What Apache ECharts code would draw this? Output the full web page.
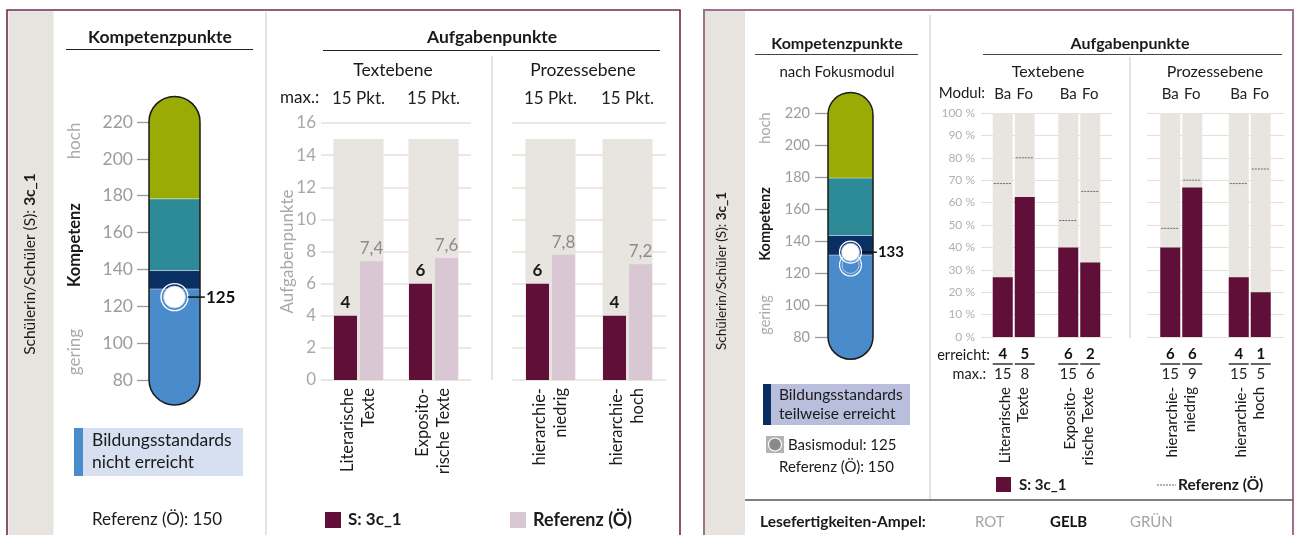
<!DOCTYPE html>
<html><head><meta charset="utf-8">
<script src="https://cdn.jsdelivr.net/npm/echarts@6/dist/echarts.min.js"></script>
<style>html,body{margin:0;padding:0;background:#fff}#c{width:1297px;height:535px}</style>
</head><body><div id="c"></div>
<script>
// ===== DATA =====
const studentId = '3c_1';
const kompTicks = [80, 100, 120, 140, 160, 180, 200, 220];
const leftBandEdges = [66.5, 129.4, 139.4, 178.3, 233.9];
const rightBandEdges = [66.1, 131.2, 143.4, 179.3, 232.8];
const leftScore = [125];
const rightScore = [133];
const basisScore = [125];
const referenzKomp = 150;

const catsText = ['Literarische\nTexte', 'Exposito-\nrische Texte'];
const catsProz = ['hierarchie-\nniedrig', 'hierarchie-\nhoch'];

// left: Aufgabenpunkte (points)
const leftMaxText = [15, 15];
const leftMaxProz = [15, 15];
const leftSText = [4, 6];
const leftSProz = [6, 4];
const leftRefText = [7.4, 7.6];
const leftRefProz = [7.8, 7.2];

// right: Aufgabenpunkte (percent by module)
const pctFull = [100, 100];
const erreichtBaText = [4, 6], erreichtFoText = [5, 2];
const maxBaText = [15, 15], maxFoText = [8, 6];
const erreichtBaProz = [6, 4], erreichtFoProz = [6, 1];
const maxBaProz = [15, 15], maxFoProz = [9, 5];
const pctBaText = [26.7, 40.0], pctFoText = [62.5, 33.3];
const pctBaProz = [40.0, 26.7], pctFoProz = [66.7, 20.0];
const refBaText = [68.5, 52.0], refFoText = [80.0, 65.0];
const refBaProz = [48.5, 68.5], refFoProz = [70.0, 75.0];

const ampel = ['ROT', 'GELB', 'GRÜN'];
const ampelActive = 'GELB';

// ===== STYLE =====
const FONT = 'Lato, "Open Sans", sans-serif';
const MAROON = '#5f0f38', PINK = '#d9c7d3', BG = '#e8e4e0', GRIDC = '#e6dfd8', STRIPE = '#e7e3df';
const bandColorsLeft = ['#4a8bcb', '#0a2f63', '#2d8b97', '#99ab04'];
const bandColorsRight = ['#4a8bcb', '#0a2f63', '#2d8b97', '#99ab04'];

function T(x, y, text, o) {
  o = o || {};
  const st = {text: text, fontFamily: FONT, fontSize: o.size || 16, fontWeight: o.bold ? 'bold' : 'normal',
    fill: o.color || '#1a1a1a', align: o.align || 'left', verticalAlign: o.va || 'middle'};
  if (o.lh) st.lineHeight = o.lh;
  if (o.rich) st.rich = o.rich;
  return {type: 'text', x: x, y: y, rotation: o.rot || 0, silent: true, z: 100, style: st};
}
function L(x1, y1, x2, y2, color, w, dash) {
  const st = {stroke: color, lineWidth: w};
  if (dash) st.lineDash = dash;
  return {type: 'line', silent: true, z: 100, shape: {x1, y1, x2, y2}, style: st};
}
function R(x, y, w, h, fill, stroke, lw, z) {
  return {type: 'rect', silent: true, z: z == null ? 100 : z, shape: {x, y, width: w, height: h},
    style: {fill: fill || 'none', stroke: stroke || null, lineWidth: lw || 0}};
}

function makePill(edges, colors, xi, yi) {
  const data = [];
  for (let i = 0; i < colors.length; i++) data.push([0, edges[i], edges[i + 1], i]);
  const last = colors.length - 1;
  return {
    type: 'custom', xAxisIndex: xi, yAxisIndex: yi, data: data, silent: true, z: 2,
    encode: {x: 0, y: [1, 2]},
    renderItem: function (params, api) {
      const i = api.value(3);
      const pTop = api.coord([0, api.value(2)]);
      const pBot = api.coord([0, api.value(1)]);
      const w = api.size([1, 0])[0];
      const r = w / 2;
      let rr = 0;
      if (i === last) rr = [r, r, 0, 0];
      else if (i === 0) rr = [0, 0, r, r];
      const band = {type: 'rect', shape: {x: pTop[0] - r, y: pTop[1], width: w, height: pBot[1] - pTop[1], r: rr},
        style: {fill: colors[i]}};
      const kids = [band];
      if (i > 0) kids.push({type: 'line', shape: {x1: pTop[0] - r, y1: pBot[1], x2: pTop[0] + r, y2: pBot[1]},
        style: {stroke: 'rgba(255,255,255,0.45)', lineWidth: 1}});
      if (i === last) {
        const b0 = api.coord([0, edges[0]]);
        kids.push({type: 'rect', shape: {x: pTop[0] - r, y: pTop[1], width: w, height: b0[1] - pTop[1], r: r},
          style: {fill: 'none', stroke: '#1a1a1a', lineWidth: 1.5}});
      }
      return {type: 'group', children: kids};
    }
  };
}

function scoreLabel(size, lineW) {
  return {show: true, position: 'right', distance: 2,
    formatter: function (p) { return '{l| }{v|' + p.value[1] + '}'; },
    rich: {l: {width: lineW, height: 1.5, lineHeight: 2, fontSize: 1, backgroundColor: '#111'},
      v: {fontFamily: FONT, fontSize: size, fontWeight: 'bold', color: '#111', padding: [0, 0, 0, 1]}}};
}

function refSeries(xi, yi, ba, fo) {
  const data = [];
  ba.forEach(function (v, i) { data.push([i, v, -1]); });
  fo.forEach(function (v, i) { data.push([i, v, 1]); });
  return {type: 'custom', xAxisIndex: xi, yAxisIndex: yi, data: data, silent: true, z: 6,
    encode: {x: 0, y: 1},
    renderItem: function (params, api) {
      const c = api.coord([api.value(0), api.value(1)]);
      const off = api.value(2) * 11;
      return {type: 'line', shape: {x1: c[0] + off - 9, y1: c[1], x2: c[0] + off + 9, y2: c[1]},
        style: {stroke: '#6a6a6a', lineWidth: 1, lineDash: [2, 1]}};
    }};
}

function modBars(xLab, xHid, yi, pBa, pFo, eBa, mBa, eFo, mFo) {
  const rich = {
    a: {fontFamily: FONT, fontSize: 15, fontWeight: 'bold', color: '#111', lineHeight: 17, align: 'center'},
    u: {width: 20, height: 1.5, lineHeight: 2, fontSize: 1, backgroundColor: '#333'},
    b: {fontFamily: FONT, fontSize: 15, color: '#222', lineHeight: 19, align: 'center'}
  };
  function lab(e, m) {
    return {show: true, position: 'bottom', distance: 9, rich: rich,
      formatter: function (p) { return '{a|' + e[p.dataIndex] + '}\n{u| }\n{b|' + m[p.dataIndex] + '}'; }};
  }
  const bgLab = {show: true, position: 'top', distance: 11, formatter: '{a}', fontFamily: FONT, fontSize: 15, color: '#222'};
  return [
    {type: 'bar', name: 'Ba', xAxisIndex: xHid, yAxisIndex: yi, data: pctFull, barWidth: 20, barGap: '10%', silent: true, z: 1,
      itemStyle: {color: BG}, label: bgLab},
    {type: 'bar', name: 'Fo', xAxisIndex: xHid, yAxisIndex: yi, data: pctFull, barWidth: 20, barGap: '10%', silent: true, z: 1,
      itemStyle: {color: BG}, label: bgLab},
    {type: 'bar', name: 'S Ba', xAxisIndex: xLab, yAxisIndex: yi, data: pBa, barWidth: 20, barGap: '10%', z: 3,
      itemStyle: {color: MAROON}, label: lab(eBa, mBa)},
    {type: 'bar', name: 'S Fo', xAxisIndex: xLab, yAxisIndex: yi, data: pFo, barWidth: 20, barGap: '10%', z: 3,
      itemStyle: {color: MAROON}, label: lab(eFo, mFo)}
  ];
}

function ptsBars(xLab, xHid, yi, mx, s, ref) {
  return [
    {type: 'bar', name: 'max', xAxisIndex: xHid, yAxisIndex: yi, data: mx, barWidth: 50, silent: true, z: 1,
      itemStyle: {color: BG},
      label: {show: true, position: 'top', distance: 32, fontFamily: FONT, fontSize: 17, color: '#222',
        formatter: function (p) { return p.value + ' Pkt.'; }}},
    {type: 'bar', name: 'S', xAxisIndex: xLab, yAxisIndex: yi, data: s, barWidth: 23, barGap: '13%', z: 3,
      itemStyle: {color: MAROON},
      label: {show: true, position: 'top', distance: 5, fontFamily: FONT, fontSize: 17, fontWeight: 'bold', color: '#1a1a1a'}},
    {type: 'bar', name: 'Ref', xAxisIndex: xLab, yAxisIndex: yi, data: ref, barWidth: 23, barGap: '13%', z: 3,
      itemStyle: {color: PINK},
      label: {show: true, position: 'top', distance: 4, fontFamily: FONT, fontSize: 17, color: '#8c8c8c',
        formatter: function (p) { return String(p.value).replace('.', ','); }}}
  ];
}

const hiddenX = function (g, cats) { return {gridIndex: g, type: 'category', data: cats, show: false}; };
const labX = function (g, cats, size, lh, margin) {
  return {gridIndex: g, type: 'category', data: cats, axisLine: {show: false}, axisTick: {show: false},
    axisLabel: {interval: 0, rotate: 90, fontFamily: FONT, fontSize: size, lineHeight: lh, color: '#1a1a1a', margin: margin}};
};

const grids = [
  {left: 149, top: 96.4, width: 51, height: 308.5},
  {left: 321, top: 123, width: 150, height: 257},
  {left: 512, top: 123, width: 154, height: 257},
  {left: 828, top: 92.5, width: 45, height: 266.7},
  {left: 981, top: 113, width: 131, height: 224},
  {left: 1147, top: 113, width: 137, height: 224}
].map(function (g) { g.containLabel = false; g.outerBoundsMode = 'none'; return g; });

const xAxes = [
  hiddenX(0, ['K']),
  labX(1, catsText, 16.5, 21, 8), hiddenX(1, catsText),
  labX(2, catsProz, 16.5, 21, 8), hiddenX(2, catsProz),
  hiddenX(3, ['K']),
  labX(4, catsText, 15, 18, 50), hiddenX(4, catsText),
  labX(5, catsProz, 15, 18, 50), hiddenX(5, catsProz)
];

function pillY(g, edges, size, tickLen, margin) {
  return {gridIndex: g, type: 'value', min: edges[0], max: edges[edges.length - 1],
    splitLine: {show: false}, axisLine: {show: false},
    axisTick: {show: true, length: tickLen, customValues: kompTicks, lineStyle: {color: '#9a9a9a', width: 1.3}},
    axisLabel: {customValues: kompTicks, fontFamily: FONT, fontSize: size, color: '#9c9c9c', margin: margin}};
}

const yAxes = [
  pillY(0, leftBandEdges, 17.5, 12, 16),
  {gridIndex: 1, type: 'value', min: 0, max: 16, interval: 2, axisLine: {show: false}, axisTick: {show: false},
    splitLine: {lineStyle: {color: GRIDC, width: 1.5}},
    axisLabel: {fontFamily: FONT, fontSize: 17, color: '#a8a8a8', margin: 5},
    name: 'Aufgabenpunkte', nameLocation: 'middle', nameGap: 25, nameMoveOverlap: false,
    nameTextStyle: {fontFamily: FONT, fontSize: 17, color: '#a8a8a8'}},
  {gridIndex: 2, type: 'value', min: 0, max: 16, interval: 2, axisLine: {show: false}, axisTick: {show: false},
    splitLine: {lineStyle: {color: GRIDC, width: 1.5}}, axisLabel: {show: false}},
  pillY(3, rightBandEdges, 14.5, 13, 18),
  {gridIndex: 4, type: 'value', min: 0, max: 100, interval: 10, axisLine: {show: false}, axisTick: {show: false},
    splitLine: {lineStyle: {color: GRIDC, width: 1.2}},
    axisLabel: {fontFamily: FONT, fontSize: 12, color: '#b0b0b0', margin: 6, formatter: '{value} %'}},
  {gridIndex: 5, type: 'value', min: 0, max: 100, interval: 10, axisLine: {show: false}, axisTick: {show: false},
    splitLine: {lineStyle: {color: GRIDC, width: 1.2}}, axisLabel: {show: false}}
];

const sc = function (arr) { return arr.map(function (v) { return [0, v]; }); };
const series = [].concat(
  [makePill(leftBandEdges, bandColorsLeft, 0, 0),
    {type: 'scatter', xAxisIndex: 0, yAxisIndex: 0, data: sc(leftScore),
      symbolSize: 27, silent: true, z: 5, itemStyle: {color: 'rgba(0,0,0,0)', borderColor: '#ffffff', borderWidth: 1.4, opacity: 1}},
    {type: 'scatter', xAxisIndex: 0, yAxisIndex: 0, data: sc(leftScore),
      symbolSize: 22, silent: true, z: 6, itemStyle: {color: '#ffffff', borderColor: '#a9c5e8', borderWidth: 0.8, opacity: 1},
      label: scoreLabel(17, 17)}],
  ptsBars(1, 2, 1, leftMaxText, leftSText, leftRefText),
  ptsBars(3, 4, 2, leftMaxProz, leftSProz, leftRefProz),
  [makePill(rightBandEdges, bandColorsRight, 5, 3),
    {type: 'scatter', xAxisIndex: 5, yAxisIndex: 3, data: sc(basisScore),
      symbolSize: 22, silent: true, z: 5, itemStyle: {color: 'rgba(0,0,0,0)', borderColor: '#ffffff', borderWidth: 1.1, opacity: 1}},
    {type: 'scatter', xAxisIndex: 5, yAxisIndex: 3, data: sc(basisScore),
      symbolSize: 17, silent: true, z: 5, itemStyle: {color: 'rgba(0,0,0,0)', borderColor: 'rgba(255,255,255,0.7)', borderWidth: 0.8, opacity: 1}},
    {type: 'scatter', xAxisIndex: 5, yAxisIndex: 3, data: sc(rightScore),
      symbolSize: 22, silent: true, z: 6, itemStyle: {color: 'rgba(0,0,0,0)', borderColor: '#ffffff', borderWidth: 1.2, opacity: 1}},
    {type: 'scatter', xAxisIndex: 5, yAxisIndex: 3, data: sc(rightScore),
      symbolSize: 18, silent: true, z: 7, itemStyle: {color: '#ffffff', borderColor: '#a9c5e8', borderWidth: 0.8, opacity: 1},
      label: scoreLabel(15, 15)}],
  modBars(6, 7, 4, pctBaText, pctFoText, erreichtBaText, maxBaText, erreichtFoText, maxFoText),
  [refSeries(6, 4, refBaText, refFoText)],
  modBars(8, 9, 5, pctBaProz, pctFoProz, erreichtBaProz, maxBaProz, erreichtFoProz, maxFoProz),
  [refSeries(8, 5, refBaProz, refFoProz)]
);

const studentRich = function (size) {
  return {
    n: {fontFamily: FONT, fontSize: size, fontWeight: 'normal', fill: '#1a1a1a', color: '#1a1a1a'},
    b: {fontFamily: FONT, fontSize: size, fontWeight: 'bold', fill: '#1a1a1a', color: '#1a1a1a'}
  };
};

const graphics = [
  // ---- left panel frame ----
  R(8.5, 11, 45, 530, STRIPE, null, 0, 1),
  R(7, 10, 673, 540, 'none', '#6b2a4c', 1.6),
  T(30, 264, '{n|Schülerin/Schüler (S): }{b|' + studentId + '}', {size: 15.5, rot: Math.PI / 2, align: 'center', rich: studentRich(15.5)}),
  L(266, 12, 266, 535, STRIPE, 2),
  T(160, 37, 'Kompetenzpunkte', {size: 17.5, bold: true, align: 'center'}),
  L(66, 49.5, 253, 49.5, '#222', 1),
  T(75, 141, 'hoch', {size: 17, color: '#ababab', rot: Math.PI / 2, align: 'center'}),
  T(75, 245, 'Kompetenz', {size: 16.5, bold: true, rot: Math.PI / 2, align: 'center'}),
  T(75, 352, 'gering', {size: 17, color: '#ababab', rot: Math.PI / 2, align: 'center'}),
  R(74, 428, 169, 48, '#d6e0f1'),
  R(74, 428, 9, 48, '#4a8bcb'),
  T(92, 451, 'Bildungsstandards\nnicht erreicht', {size: 17.5, lh: 22}),
  T(92, 520, 'Referenz (Ö): ' + referenzKomp, {size: 17}),
  T(492, 37, 'Aufgabenpunkte', {size: 17.5, bold: true, align: 'center'}),
  L(323, 50.5, 660, 50.5, '#222', 1),
  L(492, 56, 492, 380, STRIPE, 2),
  T(393, 70, 'Textebene', {size: 17.5, align: 'center'}),
  T(583, 70, 'Prozessebene', {size: 17.5, align: 'center'}),
  T(280, 98, 'max.:', {size: 17}),
  R(325, 512, 16, 16, MAROON),
  T(348, 520, 'S: ' + studentId, {size: 17, bold: true}),
  R(510, 512, 16, 16, PINK),
  T(533, 520, 'Referenz (Ö)', {size: 18, bold: true}),
  // ---- right panel frame ----
  R(705, 11, 40, 530, STRIPE, null, 0, 1),
  R(704, 10, 589, 540, 'none', '#a0718d', 2),
  T(722, 271, '{n|Schülerin/Schüler (S): }{b|' + studentId + '}', {size: 13.5, rot: Math.PI / 2, align: 'center', rich: studentRich(13.5)}),
  L(930, 15, 930, 500, STRIPE, 2),
  L(745, 500, 1293, 500, '#555', 1.5),
  T(837, 44, 'Kompetenzpunkte', {size: 16, bold: true, align: 'center'}),
  L(755, 54.5, 918, 54.5, '#444', 1),
  T(837, 72, 'nach Fokusmodul', {size: 15, align: 'center'}),
  T(765, 128, 'hoch', {size: 14.5, color: '#ababab', rot: Math.PI / 2, align: 'center'}),
  T(765, 224, 'Kompetenz', {size: 14.5, bold: true, rot: Math.PI / 2, align: 'center'}),
  T(765, 315, 'gering', {size: 14.5, color: '#ababab', rot: Math.PI / 2, align: 'center'}),
  R(763, 384, 147, 41, '#b9bedc'),
  R(763, 384, 8, 41, '#0b2e62'),
  T(779, 404, 'Bildungsstandards\nteilweise erreicht', {size: 15.5, lh: 19}),
  R(766, 436, 18, 17, '#b3b3b3'),
  {type: 'circle', silent: true, z: 101, shape: {cx: 775, cy: 444.5, r: 6.5}, style: {fill: '#8a8a8a', stroke: '#fff', lineWidth: 1.2}},
  T(788, 445, 'Basismodul: ' + basisScore[0], {size: 15}),
  T(779, 467, 'Referenz (Ö): ' + referenzKomp, {size: 15}),
  T(1130, 44, 'Aufgabenpunkte', {size: 16, bold: true, align: 'center'}),
  L(983, 54.5, 1282, 54.5, '#444', 1.2),
  L(1130, 57, 1130, 338, STRIPE, 2),
  T(1048, 72, 'Textebene', {size: 16, align: 'center'}),
  T(1215, 72, 'Prozessebene', {size: 16, align: 'center'}),
  T(985, 93, 'Modul:', {size: 15, align: 'right'}),
  T(990, 355, 'erreicht:', {size: 14.5, align: 'right'}),
  T(986, 374, 'max.:', {size: 14.5, align: 'right'}),
  R(996, 477, 15, 15, MAROON),
  T(1019, 485, 'S: ' + studentId, {size: 15, bold: true}),
  L(1157, 485, 1176, 485, '#666', 1, [2, 1]),
  T(1178, 485, 'Referenz (Ö)', {size: 15.5, bold: true}),
  T(760, 522, 'Lesefertigkeiten-Ampel:', {size: 15.5, bold: true})
];
const ampelX = [975, 1050, 1130];
ampel.forEach(function (a, i) {
  const on = a === ampelActive;
  graphics.push(T(ampelX[i], 522, a, {size: 15, bold: on, color: on ? '#111' : '#a3a3a3'}));
});

const chart = echarts.init(document.getElementById('c'), null, {renderer: 'canvas'});
chart.setOption({
  animation: false,
  backgroundColor: '#ffffff',
  textStyle: {fontFamily: FONT},
  grid: grids,
  xAxis: xAxes,
  yAxis: yAxes,
  series: series,
  graphic: graphics
});
</script>
</body></html>
